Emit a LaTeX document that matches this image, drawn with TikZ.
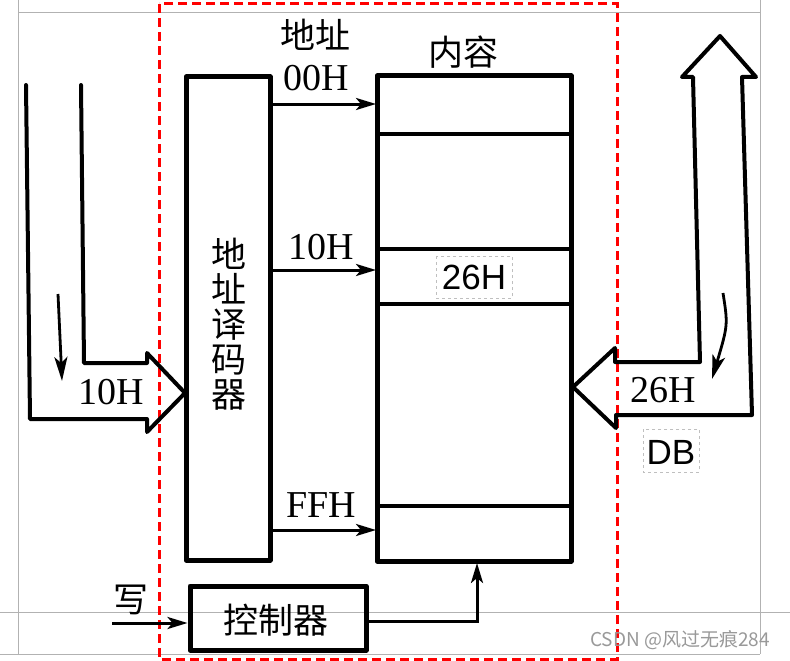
\documentclass[tikz,border=0pt]{standalone}
\usepackage{fontspec}
\setmainfont{Liberation Serif}
\newfontfamily\cjk{Noto Sans CJK SC}
\newfontfamily\arialf{Liberation Sans}
\usetikzlibrary{arrows.meta}
\begin{document}
\begin{tikzpicture}[x=1pt,y=-1pt,
  thickline/.style={line width=4pt, line join=round},
  boxline/.style={line width=5pt, line join=round},
  sig/.style={line width=3pt,-{Stealth[length=20pt,width=12pt,inset=5pt]}},
  lbl/.style={font=\fontsize{38}{40}\selectfont, inner sep=0pt},
  cjkl/.style={font=\cjk\fontsize{35}{38}\selectfont, inner sep=0pt},
  sanslbl/.style={font=\arialf\fontsize{35}{38}\selectfont, inner sep=0pt},
  dbox/.style={draw=gray!50, dashed, line width=0.9pt, inner sep=0pt},
  guide/.style={draw=gray!60, line width=1pt},
  small arrow/.style={line width=2.8pt,-{Stealth[length=24pt,width=13pt,inset=6pt]}}]
\useasboundingbox (0,0) rectangle (790,661);
\fill[white] (0,0) rectangle (790,661);
% screenshot guide lines
\draw[guide] (18,0) -- (18,654);
\draw[guide] (760,0) -- (760,654);
\draw[guide] (18,13) -- (760,13);
\draw[guide] (0,612) -- (790,612);
\draw[guide] (0,654) -- (760,654);
% red dashed frame
\draw[red, line width=3pt, dash pattern=on 9pt off 5pt] (159,4) rectangle (617,659);
% decoder
\node[boxline, draw, minimum width=84pt, minimum height=483pt, inner sep=0pt] (dec) at (228,318.5) {};
\node[cjkl, align=center] (dect) at (229,324) {地\\[-3pt]址\\[-3pt]译\\[-3pt]码\\[-3pt]器};
% memory
\node[boxline, draw, minimum width=194pt, minimum height=485pt, inner sep=0pt] (mem) at (474,318.5) {};
\coordinate (m1l) at (376,134); \coordinate (m1r) at (572,134);
\coordinate (m2l) at (376,249); \coordinate (m2r) at (572,249);
\coordinate (m3l) at (376,304); \coordinate (m3r) at (572,304);
\coordinate (m4l) at (376,506); \coordinate (m4r) at (572,506);
\draw[thickline] (m1l) -- (m1r);
\draw[thickline] (m2l) -- (m2r);
\draw[thickline] (m3l) -- (m3r);
\draw[thickline] (m4l) -- (m4r);
% address arrows
\coordinate (a0s) at (270,104); \coordinate (a0e) at (376,104);
\coordinate (a1s) at (270,270); \coordinate (a1e) at (376,270);
\coordinate (a2s) at (270,530); \coordinate (a2e) at (376,530);
\draw[sig] (a0s) -- (a0e);
\draw[sig] (a1s) -- (a1e);
\draw[sig] (a2s) -- (a2e);
% labels
\node[cjkl] (addr) at (315,35) {地址};
\node[lbl] (l00) at (316,78) {00H};
\node[cjkl] (cont) at (463,52) {内容};
\node[lbl] (l10) at (321,247) {10H};
\node[lbl] (lff) at (321,505) {FFH};
\node[sanslbl] (l26) at (474,277) {26H};
\draw[dbox] (436,256) rectangle (512,298);
% controller
\node[boxline, draw, minimum width=176pt, minimum height=64pt, inner sep=0pt] (ctl) at (278,618) {};
\node[cjkl] (ctlt) at (276,620) {控制器};
\node[cjkl] (wr) at (131,600) {写};
\coordinate (win) at (112,623);
\draw[sig] (win) -- (ctl.west |- win);
\coordinate (cm) at (477,621);
\draw[sig] (ctl.east |- cm) -- (cm) -- (477,563);
% left hollow arrow
\coordinate (lo1) at (26,85);
\coordinate (li1) at (81,85);
\draw[thickline, line cap=round] (lo1) -- (30,419) -- (147,419) -- (147,432) -- (185,393) -- (147,353) -- (147,363) -- (84,363) -- (li1);
\coordinate (sa1) at (58,294);
\coordinate (sa2) at (62,381);
\draw[small arrow] (sa1) -- (sa2);
\node[lbl] (l10b) at (111,392) {10H};
% right hollow arrow
\draw[thickline, line cap=round] (700,362) -- (693,77) -- (682,77) -- (720,36) -- (756,77) -- (742,77) -- (752,415) -- (616,415) -- (616,428) -- (573,387) -- (615,348) -- (615,362) -- cycle;
\coordinate (sb1) at (723,293);
\coordinate (sb2) at (712,379);
\draw[small arrow] (sb1) .. controls (728,325) .. (sb2);
\node[lbl] (l26b) at (663,390) {26H};
\node[sanslbl] (db) at (671,452) {DB};
\draw[dbox] (643,429) rectangle (699,472);
% watermark
\node[font=\cjk\fontsize{19}{21}\selectfont, text=gray!80, inner sep=0pt] (wm) at (680,640) {CSDN @风过无痕284};
\end{tikzpicture}
\end{document}
